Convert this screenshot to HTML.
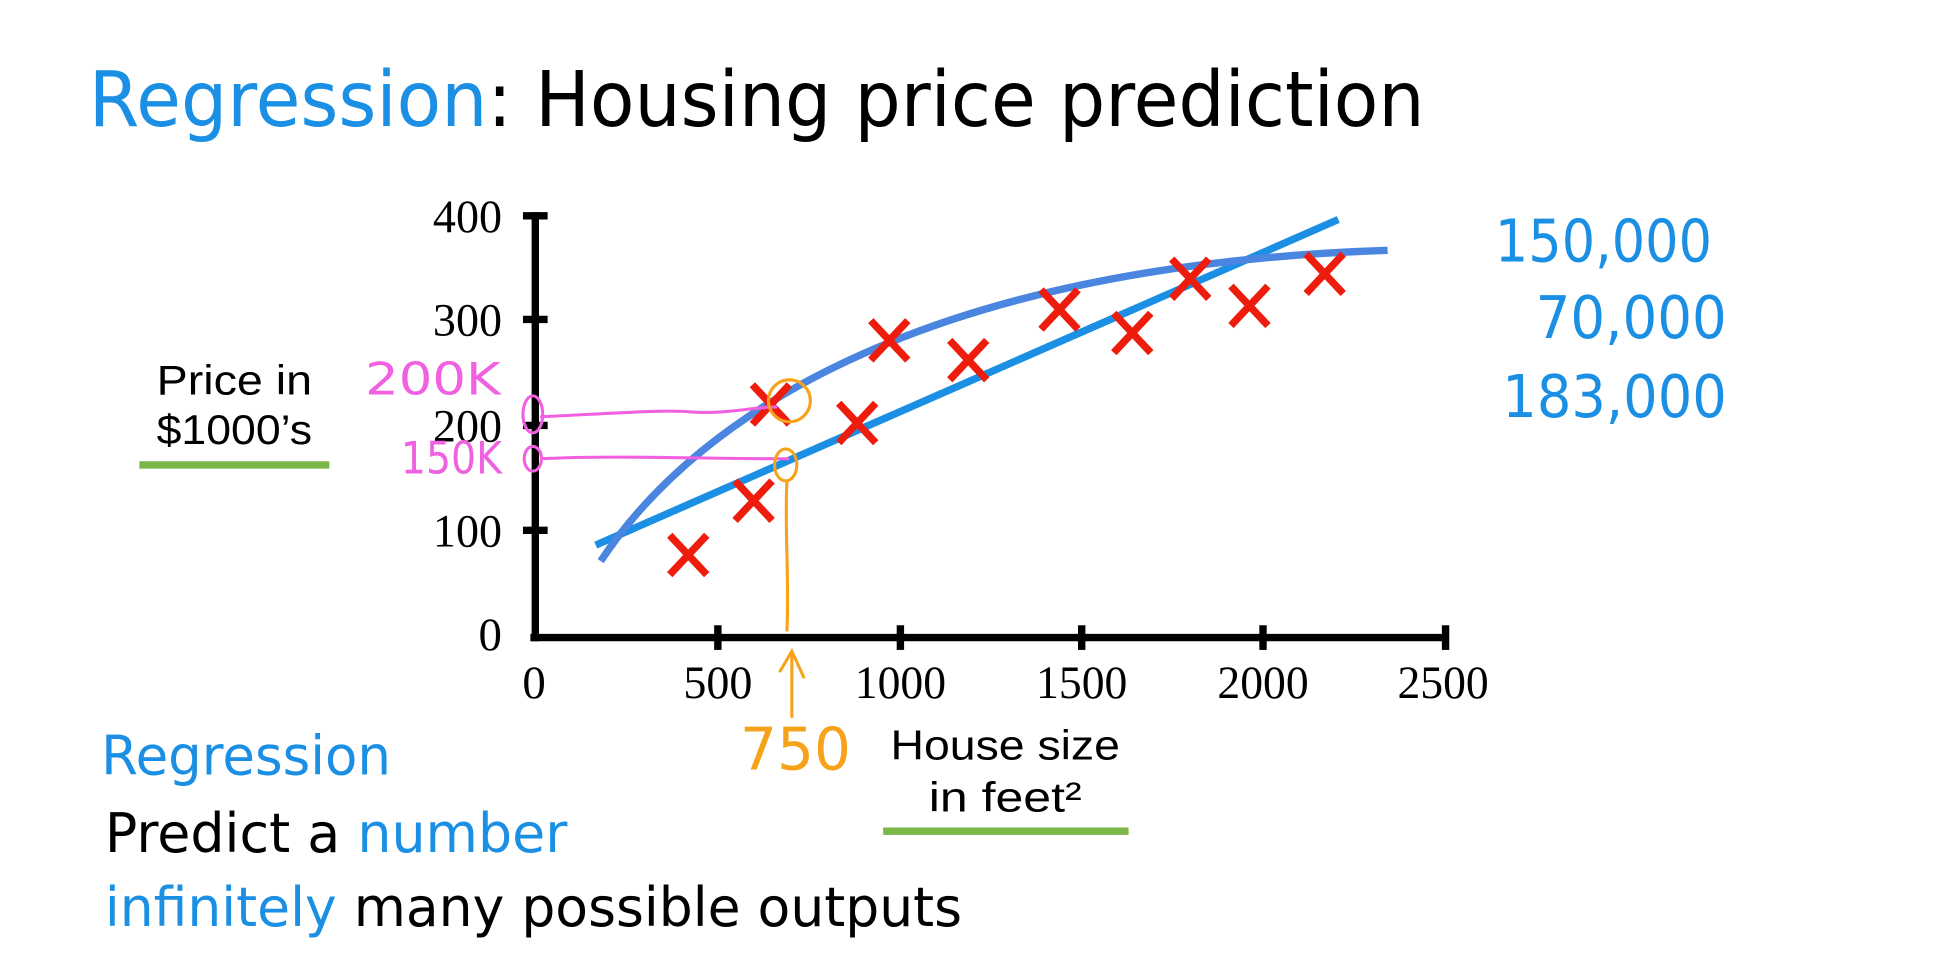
<!DOCTYPE html>
<html><head><style>html,body{margin:0;padding:0;background:#fff;overflow:hidden}</style></head>
<body>
<svg width="1934" height="957" viewBox="0 0 1568 776" preserveAspectRatio="none" xmlns="http://www.w3.org/2000/svg">
<rect width="1568" height="776" fill="#fff"/>
<text x="72" y="102" font-family="DejaVu Sans, sans-serif" font-size="62" textLength="1083" lengthAdjust="spacingAndGlyphs"><tspan fill="#1a8fe3">Regression</tspan><tspan fill="#000">: Housing price prediction</tspan></text>
<g stroke="#000" stroke-width="6">
<line x1="434" y1="172" x2="434" y2="520"/>
<line x1="430" y1="517" x2="1174" y2="517"/>
</g>
<g stroke="#000" stroke-width="6">
<line x1="424" y1="175" x2="444" y2="175"/><line x1="424" y1="259" x2="444" y2="259"/>
<line x1="424" y1="345" x2="444" y2="345"/><line x1="424" y1="430" x2="444" y2="430"/>
<line x1="582" y1="507" x2="582" y2="527"/><line x1="730" y1="507" x2="730" y2="527"/>
<line x1="877" y1="507" x2="877" y2="527"/><line x1="1024" y1="507" x2="1024" y2="527"/>
<line x1="1172" y1="507" x2="1172" y2="527"/>
</g>
<g font-family="Liberation Serif, serif" font-size="38" fill="#000" text-anchor="end">
<text x="407" y="188" textLength="56" lengthAdjust="spacingAndGlyphs">400</text><text x="407" y="272" textLength="56" lengthAdjust="spacingAndGlyphs">300</text><text x="407" y="358" textLength="56" lengthAdjust="spacingAndGlyphs">200</text><text x="407" y="443" textLength="56" lengthAdjust="spacingAndGlyphs">100</text><text x="407" y="527">0</text>
</g>
<g font-family="Liberation Serif, serif" font-size="38" fill="#000" text-anchor="middle">
<text x="433" y="566">0</text><text x="582" y="566" textLength="56" lengthAdjust="spacingAndGlyphs">500</text><text x="730" y="566" textLength="74" lengthAdjust="spacingAndGlyphs">1000</text><text x="877" y="566" textLength="74" lengthAdjust="spacingAndGlyphs">1500</text><text x="1024" y="566" textLength="74" lengthAdjust="spacingAndGlyphs">2000</text><text x="1170" y="566" textLength="74" lengthAdjust="spacingAndGlyphs">2500</text>
</g>
<g font-family="Liberation Sans, sans-serif" font-size="34" fill="#000" text-anchor="middle">
<text x="190" y="320" textLength="126" lengthAdjust="spacingAndGlyphs">Price in</text><text x="190" y="360" textLength="126" lengthAdjust="spacingAndGlyphs">$1000’s</text>
<text x="815" y="616" textLength="186" lengthAdjust="spacingAndGlyphs">House size</text><text x="815" y="658" textLength="124" lengthAdjust="spacingAndGlyphs">in feet²</text>
</g>
<rect x="113" y="374" width="154" height="6" fill="#7ab648"/>
<rect x="716" y="671" width="199" height="6" fill="#7ab648"/>
<line x1="483" y1="442" x2="1085" y2="178" stroke="#1a8fe3" stroke-width="6"/>
<path d="M487,455 C570,330 760,215 1125,203" fill="none" stroke="#4a86e0" stroke-width="6"/>
<g stroke="#ee1c0c" stroke-width="6" fill="none">
<path d="M543,434l30,32M573,434l-30,32"/>
<path d="M596,390l30,32M626,390l-30,32"/>
<path d="M610,312l30,32M640,312l-30,32"/>
<path d="M680,327l30,32M710,327l-30,32"/>
<path d="M706,260l30,32M736,260l-30,32"/>
<path d="M770,276l30,32M800,276l-30,32"/>
<path d="M844,235l30,32M874,235l-30,32"/>
<path d="M903,254l30,32M933,254l-30,32"/>
<path d="M950,210l30,32M980,210l-30,32"/>
<path d="M998,232l30,32M1028,232l-30,32"/>
<path d="M1059,206l30,32M1089,206l-30,32"/>
</g>
<g stroke="#f060e0" stroke-width="2.5" fill="none">
<path d="M438,338 C500,335 540,332 560,334 C590,336 610,330 630,330"/>
<ellipse cx="432" cy="336" rx="8" ry="15"/>
<path d="M438,372 C500,369 560,372 640,372"/>
<ellipse cx="432" cy="372" rx="7" ry="10"/>
</g>
<g font-family="DejaVu Sans, sans-serif" fill="#f060e0" font-size="36">
<text x="296" y="320" textLength="110" lengthAdjust="spacingAndGlyphs">200K</text>
<text x="325" y="384" textLength="82" lengthAdjust="spacingAndGlyphs">150K</text>
</g>
<g stroke="#f7a21b" stroke-width="2.5" fill="none">
<circle cx="640" cy="325" r="17"/>
<ellipse cx="637" cy="377" rx="9" ry="13"/>
<path d="M638,390 C636,430 640,470 638,512"/>
<path d="M642,582 L642,530 M632,545 L642,528 L652,550"/>
</g>
<text x="600" y="624" font-family="DejaVu Sans, sans-serif" font-size="48" fill="#f7a21b" textLength="90" lengthAdjust="spacingAndGlyphs">750</text>
<g font-family="DejaVu Sans, sans-serif" fill="#1a8fe3" font-size="48">
<text x="1212" y="212" textLength="176" lengthAdjust="spacingAndGlyphs">150,000</text>
<text x="1245" y="274" textLength="155" lengthAdjust="spacingAndGlyphs">70,000</text>
<text x="1218" y="338" textLength="182" lengthAdjust="spacingAndGlyphs">183,000</text>
</g>
<g font-family="DejaVu Sans, sans-serif" font-size="44">
<text x="82" y="628" fill="#1a8fe3" textLength="235" lengthAdjust="spacingAndGlyphs">Regression</text>
<text x="85" y="691" textLength="375" lengthAdjust="spacingAndGlyphs"><tspan fill="#000">Predict a </tspan><tspan fill="#1a8fe3">number</tspan></text>
<text x="85" y="751" textLength="695" lengthAdjust="spacingAndGlyphs"><tspan fill="#1a8fe3">infinitely</tspan><tspan fill="#000"> many possible outputs</tspan></text>
</g>
</svg>
</body></html>
